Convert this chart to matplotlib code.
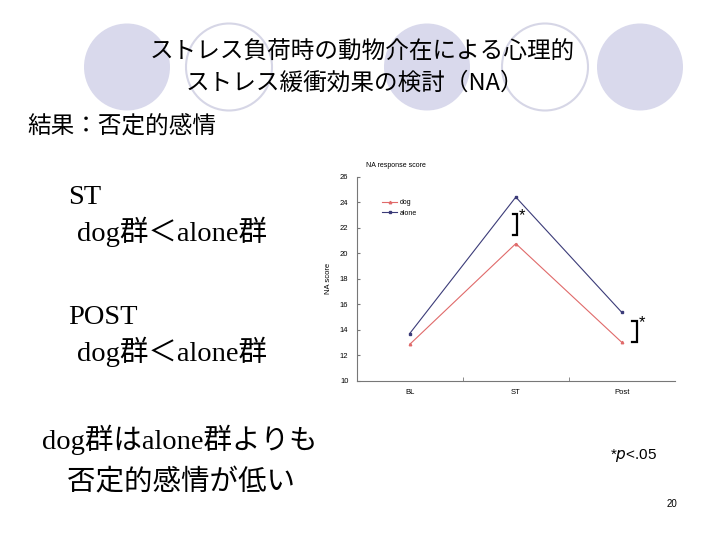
import matplotlib
matplotlib.use("Agg")
import matplotlib.pyplot as plt
from matplotlib.patches import Ellipse

SERIF = ["Liberation Serif", "Noto Sans CJK JP"]
GOTHIC = ["Noto Sans CJK JP", "DejaVu Sans"]
plt.rcParams["font.family"] = ["Liberation Sans", "Noto Sans CJK JP"]

# data
phases = ["BL", "ST", "Post"]
dog = [12.85, 20.75, 13.0]
alone = [13.7, 24.4, 15.35]
sig_phase = [1, 2]          # index of phases marked with *
RED, NAVY = "#e06a6a", "#3b3b78"

fig = plt.figure(figsize=(7.2, 5.4), dpi=100)

# slide background in pixel coords
bg = fig.add_axes([0, 0, 1, 1])
bg.set_xlim(0, 720); bg.set_ylim(540, 0); bg.axis("off")
for cx, filled in [(127, True), (229, False), (427, True), (545, False), (640, True)]:
    if filled:
        bg.add_patch(Ellipse((cx, 67), 86, 87, fc="#d9d9ec", ec="none"))
    else:
        bg.add_patch(Ellipse((cx, 67), 86, 87, fc="white", ec="#d6d6e6", lw=1.5))

bg.text(362, 52, "ストレス負荷時の動物介在による心理的", ha="center", va="center", fontsize=17, family=GOTHIC)
bg.text(355, 83, "ストレス緩衝効果の検討（NA）", ha="center", va="center", fontsize=17, family=GOTHIC)
bg.text(27, 127, "結果：否定的感情", ha="left", va="center", fontsize=17, family=GOTHIC)

for x, y, s in [(68, 197, "ST"), (77, 232, "dog群＜alone群"), (68, 317, "POST"),
                (77, 352, "dog群＜alone群"), (42, 440, "dog群はalone群よりも"),
                (67, 483, "否定的感情が低い")]:
    bg.text(x, y, s, ha="left", va="center", fontsize=20.5, family=SERIF)

bg.text(610, 455, r"*$\it{p}$<.05", ha="left", va="center", fontsize=11, family=["Liberation Sans"])
bg.text(672, 504, "20", ha="center", va="center", fontsize=7)

# the chart
ax = fig.add_axes([0.4954, 0.295, 0.442, 0.3778])
x = list(range(1, len(phases) + 1))
ax.plot(x, dog, color=RED, lw=0.8, marker="^", ms=1.8, label="dog")
ax.plot(x, alone, color=NAVY, lw=0.8, marker="s", ms=1.8, label="alone")
ax.set_xlim(0.5, 3.5)
ax.set_ylim(10, 26)
ax.set_yticks(range(10, 27, 2))
ax.set_xticks(x)
ax.set_xticklabels(phases)
ax.set_xticks([1.5, 2.5], minor=True)
ax.tick_params(axis="x", which="major", length=0, labelsize=5.5, pad=6)
ax.tick_params(axis="x", which="minor", length=3, direction="in", color="#777")
ax.tick_params(axis="y", length=2.5, direction="in", labelsize=5.5, color="#777", pad=6)
for s in ["top", "right"]:
    ax.spines[s].set_visible(False)
for s in ["left", "bottom"]:
    ax.spines[s].set_color("#777")
    ax.spines[s].set_linewidth(0.8)
ax.patch.set_alpha(0)
ax.set_ylabel("NA score", fontsize=5.5, labelpad=6)
ax.text(0.03, 1.055, "NA response score", transform=ax.transAxes, fontsize=5, ha="left", va="center")
ax.legend(loc="upper left", bbox_to_anchor=(0.06, 0.92), frameon=False, fontsize=5,
          handlelength=2.2, handletextpad=0.3, labelspacing=0.5)

# significance brackets, centred a little below the midpoint of the two groups
for i, dx in zip(sig_phase, [-0.03, 0.10]):
    xi = x[i] + dx
    mid = (dog[i] + alone[i]) / 2 - 0.3
    lo, hi = mid - 0.82, mid + 0.82
    ax.plot([xi, xi + 0.045, xi + 0.045, xi], [hi, hi, lo, lo], color="black", lw=1.6,
            clip_on=False, solid_joinstyle="miter")
    ax.text(xi + 0.06, hi - 0.15, "*", fontsize=12, ha="left", va="center", clip_on=False)

fig.savefig("out.png", dpi=100)
